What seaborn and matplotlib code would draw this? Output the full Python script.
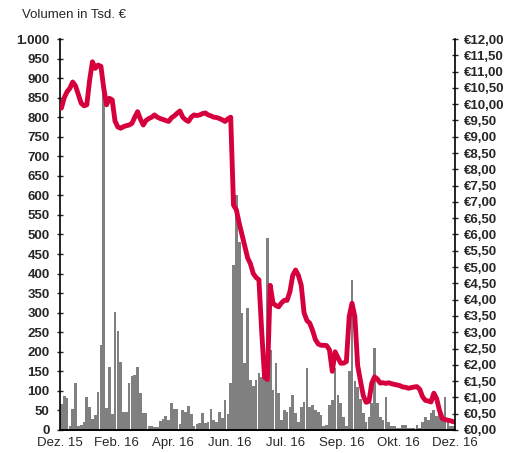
import matplotlib
matplotlib.use("Agg")
import matplotlib.pyplot as plt
import seaborn as sns

# Volume in thousand EUR (one value per bar)
volume = [
    66, 87, 83, 10, 54, 120, 9, 13, 21, 84,
    58, 27, 38, 96, 218, 900, 56, 162, 40, 303,
    254, 175, 47, 47, 120, 138, 140, 162, 94, 43,
    43, 10, 10, 7, 7, 24, 27, 37, 26, 68,
    54, 54, 15, 50, 47, 62, 40, 10, 15, 17,
    43, 17, 21, 53, 26, 21, 47, 30, 77, 40,
    120, 422, 600, 480, 299, 171, 312, 128, 113, 128,
    145, 136, 141, 490, 205, 102, 171, 94, 26, 51,
    45, 60, 90, 43, 20, 60, 72, 158, 60, 64,
    51, 45, 38, 9, 13, 64, 77, 158, 90, 68,
    34, 9, 150, 384, 125, 110, 80, 43, 21, 34,
    68, 209, 68, 34, 26, 85, 21, 9, 9, 4,
    4, 13, 13, 4, 4, 4, 13, 4, 20, 34,
    26, 43, 51, 35, 47, 26, 85, 30, 9, 9,
]

# Share price in EUR (one value per bar)
price = [
    9.88, 10.20, 10.38, 10.49, 10.68, 10.56, 10.30, 10.03, 9.95, 9.98,
    10.74, 11.30, 11.10, 11.20, 11.16, 10.49, 9.98, 10.18, 10.13, 9.48,
    9.30, 9.26, 9.31, 9.34, 9.36, 9.41, 9.60, 9.77, 9.54, 9.36,
    9.50, 9.56, 9.60, 9.67, 9.60, 9.56, 9.53, 9.50, 9.47, 9.58,
    9.64, 9.72, 9.79, 9.60, 9.52, 9.47, 9.60, 9.67, 9.65, 9.67,
    9.71, 9.73, 9.67, 9.64, 9.60, 9.59, 9.56, 9.52, 9.47, 9.55,
    9.60, 6.90, 6.76, 6.35, 6.00, 5.64, 5.28, 5.10, 4.80, 4.68,
    4.61, 3.00, 1.62, 1.55, 4.44, 3.89, 3.82, 3.78, 3.90, 3.98,
    3.98, 4.25, 4.75, 4.91, 4.74, 4.44, 3.60, 3.36, 3.28, 3.06,
    2.78, 2.64, 2.60, 2.60, 2.59, 2.46, 1.80, 2.40, 2.22, 2.05,
    2.05, 2.10, 3.48, 3.89, 3.48, 1.98, 1.50, 1.05, 0.85, 0.88,
    1.44, 1.63, 1.56, 1.44, 1.45, 1.43, 1.45, 1.42, 1.40, 1.38,
    1.36, 1.32, 1.31, 1.28, 1.30, 1.32, 1.33, 1.25, 1.02, 0.91,
    0.89, 0.86, 1.13, 0.96, 0.60, 0.35, 0.32, 0.30, 0.28, 0.25,
]

month_labels = ["Dez. 15", "Feb. 16", "Apr. 16", "Jun. 16",
                "Jul. 16", "Sep. 16", "Okt. 16", "Dez. 16"]

days = list(range(len(volume)))

sns.set_style("white")
plt.rcParams["font.family"] = ["Liberation Sans", "DejaVu Sans"]

fig = plt.figure(figsize=(5.2, 4.53), dpi=100)
ax = fig.add_axes([0.1154, 0.0508, 0.875 - 0.1154, 0.9139 - 0.0508])

sns.barplot(x=days, y=volume, color="#808080", saturation=1,
            width=0.95, linewidth=0, ax=ax)

ax2 = ax.twinx()
sns.lineplot(x=days, y=price, color="#D6003C", linewidth=3.5, ax=ax2)

# left axis: volume
ax.set_ylim(0, 1000)
vol_ticks = list(range(0, 1001, 50))
ax.set_yticks(vol_ticks)
ax.set_yticklabels([f"{v:,}".replace(",", ".") for v in vol_ticks],
                   fontsize=9.5, fontweight="bold")

# right axis: price
ax2.set_ylim(0, 12)
price_ticks = [k * 0.5 for k in range(25)]
ax2.set_yticks(price_ticks)
ax2.set_yticklabels(["€" + f"{p:.2f}".replace(".", ",") for p in price_ticks],
                    fontsize=9.5, fontweight="bold")

# x axis
n = len(days)
ax.set_xlim(-0.5, n - 0.5)
ax.set_xticks([-0.5 + k * n / 7 for k in range(8)])
ax.set_xticklabels(month_labels, fontsize=9.5)
ax.tick_params(axis="x", length=0, pad=5)
ax.tick_params(axis="y", direction="inout", length=5, width=1, pad=5)
ax2.tick_params(axis="y", direction="inout", length=5, width=1, pad=4)

for a in (ax, ax2):
    a.set_xlabel("")
    a.set_ylabel("")
    a.spines["top"].set_visible(False)
    for s in ("left", "right", "bottom"):
        a.spines[s].set_color("black")
        a.spines[s].set_linewidth(1.2)
ax.spines["right"].set_visible(False)
ax2.spines["left"].set_visible(False)

fig.text(22 / 520, 1 - 15 / 453, "Volumen in Tsd. €", fontsize=9.5,
         ha="left", va="center")

fig.savefig("out.png", dpi=100)
